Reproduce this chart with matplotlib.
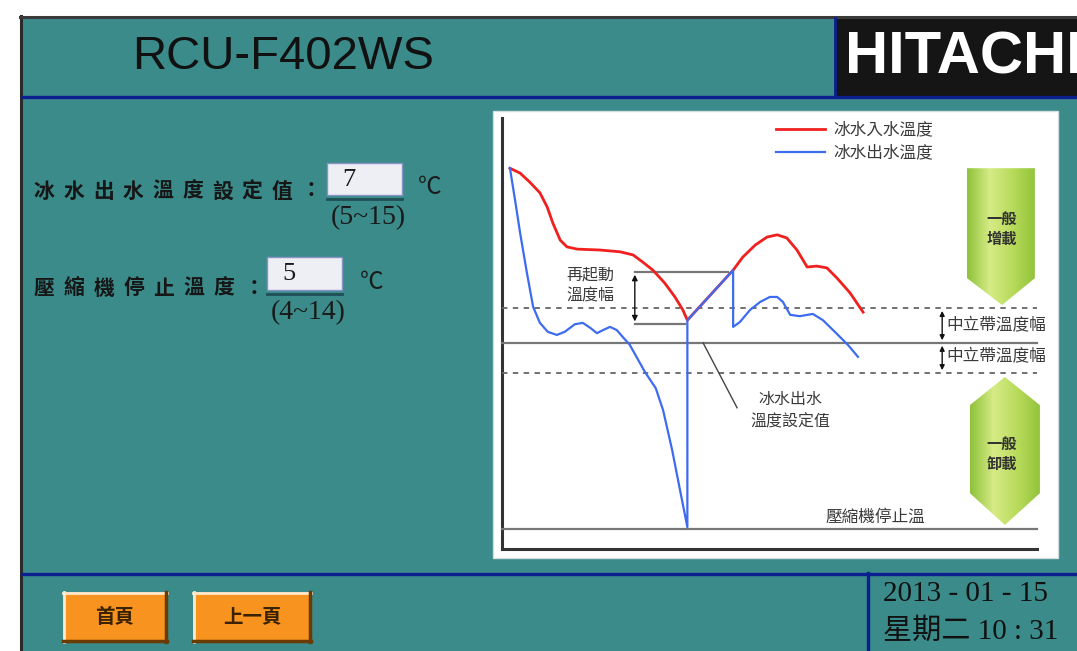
import matplotlib
matplotlib.use('Agg')
import matplotlib.pyplot as plt
import numpy as np
from matplotlib.patches import Rectangle, Polygon
from matplotlib.colors import LinearSegmentedColormap

W, H = 1077, 651
CJK = ['Noto Sans CJK TC', 'DejaVu Sans']
SERIF = ['Liberation Serif', 'Noto Sans CJK TC']

title = 'RCU-F402WS'
brand = 'HITACHI'
setpoint_label = '冰水出水溫度設定值：'
setpoint_value = 7
setpoint_range = (5, 15)
stop_label = '壓縮機停止溫度：'
stop_value = 5
stop_range = (4, 14)
buttons = ['首頁', '上一頁']
date_text = '2013 - 01 - 15'
time_text = '星期二 10 : 31'

# chart series (time, temperature in chart units)
t_in = [3.0, 4.8, 6.5, 8.3, 9.6, 10.6, 11.9, 13.1, 14.9, 18.9, 22.5, 24.8, 26.5,
        28.3, 30.4, 32.2, 33.6, 34.4, 42.5, 44.2, 46.4, 48.5, 50.3, 52.0, 53.8,
        55.6, 57.3, 59.1, 60.9, 63.2, 65.5]
temp_in = [87.2, 86.1, 84.1, 81.7, 78.5, 74.9, 71.1, 69.6, 69.1, 68.9, 68.5, 67.8, 66.2,
           64.4, 61.5, 58.4, 55.5, 53.2, 64.4, 67.3, 70.0, 71.8, 72.3, 71.6, 68.9,
           65.1, 65.3, 64.9, 62.6, 59.3, 55.0]
t_out = [3.0, 3.9, 4.8, 6.0, 7.1, 8.3, 9.7, 11.3, 12.7, 14.5, 15.9, 17.2, 18.4, 19.5,
         20.7, 21.9, 23.0, 24.2, 26.9, 28.8, 30.1, 31.7, 33.1, 34.4, 34.4, 42.5, 42.5,
         43.7, 45.5, 47.3, 49.0, 50.3, 51.3, 52.6, 54.3, 56.6, 58.4, 60.5, 62.8, 64.6]
temp_out = [87.2, 80.1, 72.7, 63.8, 56.2, 52.6, 50.6, 49.9, 50.6, 52.3, 52.6, 51.5, 50.3, 51.0,
            51.7, 51.0, 49.4, 47.7, 41.6, 38.0, 33.1, 24.2, 15.2, 6.9, 53.2, 64.4, 51.7,
            52.8, 55.5, 57.3, 58.4, 58.4, 57.3, 54.4, 54.1, 54.6, 53.2, 50.6, 47.7, 45.0]
series_labels = ['冰水入水溫度', '冰水出水溫度']

setpoint_level = 48.1
band_hi = 55.9
band_lo = 41.4
stop_level = 6.5
restart_level = 64.0

teal = '#3a8b8a'
navy = '#0b1f8f'

fig = plt.figure(figsize=(W / 100, H / 100), dpi=100)
fig.patch.set_facecolor('white')
bg = fig.add_axes([0, 0, 1, 1])
bg.set_xlim(0, W)
bg.set_ylim(H, 0)
bg.axis('off')

# panel frame
bg.add_patch(Rectangle((20, 16), W - 20, H - 16, facecolor=teal, edgecolor='none'))
bg.plot([21, 21], [16, H], color='#2b2b2b', lw=2.2)
bg.plot([20, W], [17, 17], color='#3a3a3a', lw=2.2)

# header
bg.add_patch(Rectangle((836, 18), W - 836, 78, facecolor='#151515', edgecolor='none'))
bg.plot([835, 835], [18, 97], color=navy, lw=2)
bg.plot([22, W], [97, 97], color=navy, lw=2.4)
bg.text(283, 57, title, fontsize=34, family='Liberation Sans', color='#111',
        ha='center', va='center')
bg.text(845, 58, brand, fontsize=43, family='Liberation Sans', weight='bold',
        color='white', ha='left', va='center')

# footer
bg.plot([22, W], [573.5, 573.5], color=navy, lw=2.4)
bg.plot([868, 868], [573, H], color=navy, lw=2.4)
bg.text(883, 594, date_text, fontsize=21, family=SERIF, color='#111', ha='left', va='center')
bg.text(883, 631, time_text, fontsize=21, family=SERIF, color='#111', ha='left', va='center')

for (x0, x1), lab in zip([(63, 167), (193, 311)], buttons):
    bg.add_patch(Rectangle((x0, 592), x1 - x0, 50, facecolor='#f7931e', edgecolor='none'))
    bg.plot([x0, x1], [593, 593], color='#fde9cf', lw=2)
    bg.plot([x0 + 0.5, x0 + 0.5], [592, 642], color='#fde9cf', lw=2)
    bg.plot([x0, x1], [641, 641], color='#6a3a05', lw=2.5)
    bg.plot([x1 - 1, x1 - 1], [592, 642], color='#6a3a05', lw=2.5)
    bg.text((x0 + x1) / 2, 617, lab, fontsize=14, family=CJK, weight='bold',
            color='#3a2200', ha='center', va='center')

# left settings
def spaced(text, x0, y, pitch):
    for i, ch in enumerate(text):
        bg.text(x0 + i * pitch, y, ch, fontsize=15, family=CJK, weight='bold',
                color='#161616', ha='center', va='center')

spaced(setpoint_label, 44, 191, 29.7)
spaced(stop_label, 44, 288, 30)

def entry(x0, x1, y0, y1, val, rng, unit_x):
    bg.add_patch(Rectangle((x0, y0), x1 - x0, y1 - y0, facecolor='#eeeff5',
                           edgecolor='#8a93c6', lw=1))
    bg.plot([x0, x1], [y1 + 4, y1 + 4], color='#1f4f56', lw=2)
    bg.text(x0 + 22, (y0 + y1) / 2 + 1, str(val), fontsize=19, family=SERIF,
            color='#1a1a1a', ha='center', va='center')
    bg.text((x0 + x1) / 2 + 4, y1 + 23, '(%d~%d)' % rng, fontsize=20, family=SERIF,
            color='#1a1a1a', ha='center', va='center')
    bg.text(unit_x, (y0 + y1) / 2 + 10, '℃', fontsize=17, family=SERIF,
            color='#1a1a1a', ha='center', va='center')

entry(327, 402, 163, 195, setpoint_value, setpoint_range, 430)
entry(267, 342, 257, 290, stop_value, stop_range, 372)

# chart panel
bg.add_patch(Rectangle((493, 111), 565, 447, facecolor='white', edgecolor='#d5dede', lw=1))
ax = fig.add_axes([493 / W, (H - 558) / H, 565 / W, 447 / H])
ax.set_axis_off()

ax.plot([1.6, 1.6], [2.0, 98.4], color='#333', lw=2.2)
ax.plot([1.6, 96.3], [2.0, 2.0], color='#333', lw=2.2)
ax.plot([1.6, 96.3], [stop_level, stop_level], color='#777', lw=1.6)
ax.plot([1.6, 96.3], [setpoint_level, setpoint_level], color='#777', lw=1.6)
for lv in (band_hi, band_lo):
    ax.plot([1.6, 96.3], [lv, lv], color='#666', lw=1.3, dashes=(3, 3))

# green arrows
green = LinearSegmentedColormap.from_list('g', ['#8fc23a', '#d6eb86', '#b9db5c', '#92c43a'])
grad = np.linspace(0, 1, 100)[None, :]
shapes = [
    ([(83.9, 87.2), (95.9, 87.2), (95.9, 62.6), (90.1, 56.6), (83.9, 62.6)], '一般\n增載', 73.6),
    ([(90.6, 40.5), (96.8, 34.2), (96.8, 14.5), (90.6, 7.4), (84.4, 14.5), (84.4, 34.2)], '一般\n卸載', 23.3),
]
for pts, lab, ty in shapes:
    poly = Polygon(pts, closed=True, facecolor='none', edgecolor='none')
    ax.add_patch(poly)
    xs = [p[0] for p in pts]
    ys = [p[1] for p in pts]
    im = ax.imshow(grad, extent=(min(xs), max(xs), min(ys), max(ys)), cmap=green,
                   aspect='auto', zorder=1)
    im.set_clip_path(poly)
    ax.text(90.1, ty, lab, fontsize=11, family=CJK, weight='bold', color='#333',
            ha='center', va='center', linespacing=1.3, zorder=3)

l_in, = ax.plot(t_in, temp_in, color='#f0201e', lw=2, zorder=4, label=series_labels[0],
                solid_joinstyle='round')
l_out, = ax.plot(t_out, temp_out, color='#3d6cf0', lw=1.6, zorder=4, label=series_labels[1],
                 solid_joinstyle='round')

# restart band annotation
ax.plot([25.1, 41.6], [restart_level, restart_level], color='#777', lw=1.6)
ax.plot([25.1, 34.0], [52.3, 52.3], color='#777', lw=1.6)
ax.annotate('', xy=(25.1, restart_level), xytext=(25.1, 52.3),
            arrowprops=dict(arrowstyle='<|-|>', color='#111', lw=1, mutation_scale=8))
ax.text(17.3, 60.9, '再起動\n溫度幅', fontsize=11.5, family=CJK, color='#3a3a3a',
        ha='center', va='center', linespacing=1.3)

# neutral band
for a, b in ((band_hi, setpoint_level), (setpoint_level, band_lo)):
    ax.annotate('', xy=(79.5, a), xytext=(79.5, b),
                arrowprops=dict(arrowstyle='<|-|>', color='#111', lw=1, mutation_scale=7))
ax.text(80.3, 52.1, '中立帶溫度幅', fontsize=12, family=CJK, color='#3a3a3a', ha='left', va='center')
ax.text(80.3, 45.2, '中立帶溫度幅', fontsize=12, family=CJK, color='#3a3a3a', ha='left', va='center')

# setpoint label
ax.plot([37.2, 43.2], [setpoint_level, 33.6], color='#444', lw=1)
ax.text(52.7, 33.0, '冰水出水\n溫度設定值', fontsize=11.5, family=CJK, color='#3a3a3a',
        ha='center', va='center', linespacing=1.4)
ax.text(67.6, 9.2, '壓縮機停止溫', fontsize=12, family=CJK, color='#3a3a3a',
        ha='center', va='center')

leg = ax.legend(handles=[l_in, l_out], loc='upper left', bbox_to_anchor=(0.475, 1.01),
                frameon=False, handlelength=2.9, handletextpad=0.5, labelspacing=0.35,
                prop={'family': CJK, 'size': 12})
for t in leg.get_texts():
    t.set_color('#3a3a3a')

ax.set_xlim(0, 100)
ax.set_ylim(0, 100)

fig.savefig('out.png', dpi=100, facecolor='white')
